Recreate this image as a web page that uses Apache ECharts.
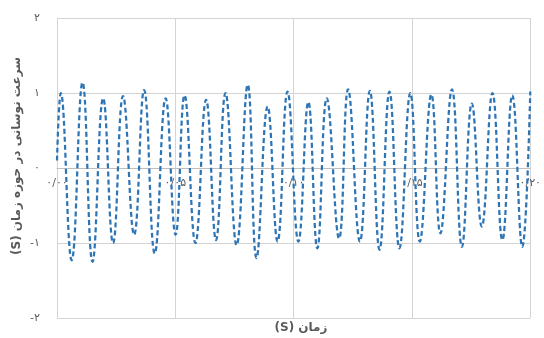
<!DOCTYPE html>
<html>
<head>
<meta charset="utf-8">
<script src="https://cdn.jsdelivr.net/npm/echarts@6/dist/echarts.min.js"></script>
<style>
  html, body { margin: 0; padding: 0; background: #fff; }
  #chart { width: 544px; height: 338px; }
</style>
</head>
<body>
<div id="chart"></div>
<script>
// زمان (ثانیه) - نقاط اوج و فرود خوانده شده از تصویر
const timeS = [
  0.0000, 0.0016, 0.0062, 0.0108, 0.0150, 0.0195, 0.0237, 0.0279, 0.0326, 0.0368,
  0.0413, 0.0459, 0.0501, 0.0539, 0.0585, 0.0630, 0.0672, 0.0712, 0.0759, 0.0806,
  0.0843, 0.0890, 0.0932, 0.0974, 0.1020, 0.1062, 0.1100, 0.1140, 0.1192, 0.1230,
  0.1280, 0.1322, 0.1363, 0.1405, 0.1447, 0.1493, 0.1533, 0.1582, 0.1620, 0.1669,
  0.1711, 0.1753, 0.1795, 0.1840, 0.1882, 0.1924, 0.1966, 0.2000
]
// سرعت نوسانی
const velocity = [
  0.10, 1.00, -1.23, 1.14, -1.25, 0.93, -1.00, 0.96, -0.89, 1.04,
  -1.14, 0.93, -0.89, 0.97, -1.00, 0.91, -0.96, 1.00, -1.03, 1.11,
  -1.20, 0.82, -0.98, 1.02, -0.98, 0.88, -1.07, 0.93, -0.94, 1.05,
  -0.98, 1.03, -1.09, 1.02, -1.07, 1.00, -0.98, 0.98, -0.87, 1.05,
  -1.05, 0.86, -0.78, 1.00, -0.96, 0.97, -1.05, 1.02
]

const xName = 'زمان (S)'
const yName = 'سرعت نوسانی در حوزه زمان (S)'

const faDigits = '۰۱۲۳۴۵۶۷۸۹'
const toFa = (s) => String(s).replace(/[0-9]/g, (d) => faDigits[+d]).replace('.', '/')
// متن راست به چپ
const rtl = (s) => '\u2067' + s + '\u2069'

const labelColor = '#595959'
const gridColor = '#d4d4d4'
const font = 'DejaVu Sans'

const chart = echarts.init(document.getElementById('chart'))

// محور افقی روی خط صفر (نیمه ارتفاع نمودار)
const plotH = 338 - 18 - 20

const option = {
  animation: false,
  textStyle: { fontFamily: font },
  grid: { left: 57, right: 12, top: 18, bottom: 20 },
  xAxis: {
    type: 'value',
    min: 0,
    max: 0.2,
    interval: 0.05,
    offset: -plotH / 2,
    axisLine: { onZero: false, lineStyle: { color: '#bfbfbf' } },
    axisTick: { show: false },
    axisLabel: {
      color: labelColor,
      fontSize: 11,
      margin: 10,
      formatter: (v) => toFa(v.toFixed(2))
    },
    splitLine: { show: true, lineStyle: { color: gridColor } }
  },
  yAxis: {
    type: 'value',
    min: -2,
    max: 2,
    interval: 1,
    axisLine: { show: true, onZero: false, lineStyle: { color: gridColor } },
    axisTick: { show: false },
    axisLabel: {
      color: labelColor,
      fontSize: 11,
      margin: 17,
      formatter: (v) => (v < 0 ? '-' : '') + toFa(Math.abs(v))
    },
    splitLine: { show: true, lineStyle: { color: gridColor } }
  },
  graphic: [
    {
      type: 'text',
      x: 301,
      y: 328,
      style: {
        text: rtl(xName),
        fill: labelColor,
        font: 'bold 12px "DejaVu Sans"',
        textAlign: 'center',
        textVerticalAlign: 'middle'
      }
    },
    {
      type: 'text',
      x: 17,
      y: 156,
      rotation: Math.PI / 2,
      style: {
        text: rtl(yName),
        fill: labelColor,
        font: 'bold 12px "DejaVu Sans"',
        textAlign: 'center',
        textVerticalAlign: 'middle'
      }
    }
  ],
  series: [
    {
      type: 'line',
      data: timeS.map((t, i) => [t, velocity[i]]),
      smooth: 0.45,
      showSymbol: false,
      lineStyle: { color: '#2e75b6', width: 2.25, type: [5, 3] }
    }
  ]
}

chart.setOption(option)
</script>
</body>
</html>
